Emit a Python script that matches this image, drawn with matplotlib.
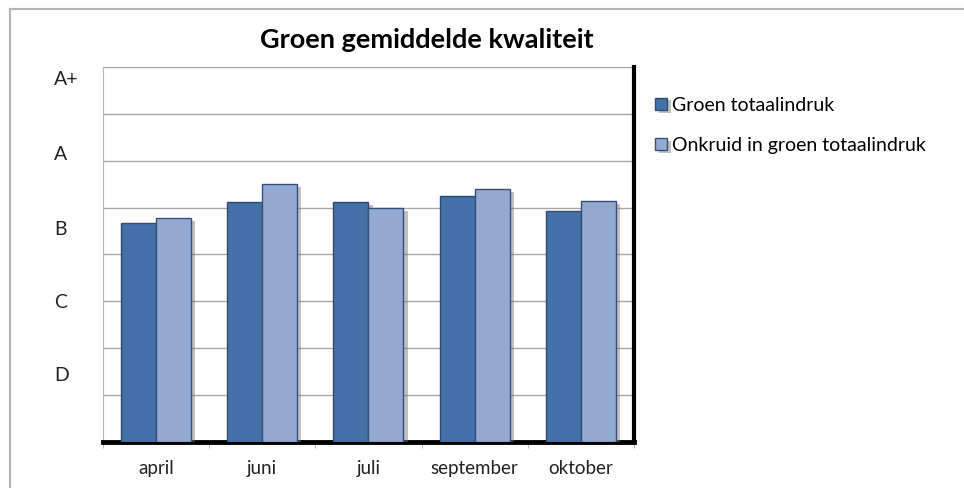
import numpy as np
import matplotlib
matplotlib.use("Agg")
import matplotlib.pyplot as plt
import matplotlib.patheffects as pe
from matplotlib.lines import Line2D

# data (scale 0..8, gridline every unit)
months = ['april', 'juni', 'juli', 'september', 'oktober']
groen = [4.68, 5.11, 5.11, 5.24, 4.92]
onkruid = [4.78, 5.50, 4.99, 5.39, 5.14]
grade_pos = [1.45, 3.0, 4.57, 6.17, 7.76]
grade_labels = ['D', 'C', 'B', 'A', 'A+']

plt.rcParams['font.family'] = ['Lato', 'DejaVu Sans']

fig = plt.figure(figsize=(9.64, 4.88), dpi=100)
ax = fig.add_axes([0.1068, 0.0943, 0.5508, 0.7684])

# outer frame of the chart (only top and left visible)
fig.add_artist(Line2D([0.0104, 0.0104], [0, 0.982], color='#b4b4b4', lw=1.5, transform=fig.transFigure))
fig.add_artist(Line2D([0.0104, 1], [0.982, 0.982], color='#b4b4b4', lw=1.5, transform=fig.transFigure))

x = np.arange(len(months))
w = 0.33
shadow = [pe.SimplePatchShadow(offset=(3, -2), shadow_rgbFace='#777777', alpha=0.45), pe.Normal()]
b1 = ax.bar(x - w / 2, groen, w, color='#4571a8', edgecolor='#2c4a72', lw=1.0,
            label='Groen totaalindruk', zorder=3)
b2 = ax.bar(x + w / 2, onkruid, w, color='#93a9d0', edgecolor='#34507a', lw=1.0,
            label='Onkruid in groen totaalindruk', zorder=3)
for bars in (b1, b2):
    for p in bars:
        p.set_path_effects(shadow)

ax.set_xlim(-0.5, len(months) - 0.5)
ax.set_ylim(0, 8)
ax.yaxis.remove_overlapping_locs = False
ax.set_yticks(np.arange(1, 9), minor=False)
ax.yaxis.grid(True, color='#a6a6a6', lw=1.0, zorder=0)
ax.tick_params(axis='y', which='major', length=0, labelleft=False)
ax.set_yticks(grade_pos, grade_labels, minor=True)
ax.tick_params(axis='y', which='minor', length=0, pad=35, labelsize=14, labelcolor='#222222')
for t in ax.get_yticklabels(minor=True):
    t.set_horizontalalignment('left')

ax.set_xticks(x, months)
ax.set_xticks(np.arange(len(months) + 1) - 0.5, minor=True)
ax.tick_params(axis='x', which='major', length=0, pad=13, labelsize=13.5, labelcolor='#222222')
ax.tick_params(axis='x', which='minor', length=4, color='#a6a6a6')

ax.spines['top'].set_visible(False)
ax.spines['left'].set_color('#b4b4b4')
ax.spines['right'].set_color('black')
ax.spines['right'].set_linewidth(3)
ax.spines['bottom'].set_color('black')
ax.spines['bottom'].set_linewidth(3.5)

fig.text(0.443, 0.918, 'Groen gemiddelde kwaliteit', ha='center', va='center',
         fontsize=19.5, fontweight='bold', color='black')

ax.legend(loc='upper left', bbox_to_anchor=(1.025, 0.942), frameon=False, fontsize=14,
          handlelength=0.6, handleheight=0.6, handletextpad=0.3, labelspacing=1.2,
          borderaxespad=0)

plt.savefig('out.png', dpi=100)
